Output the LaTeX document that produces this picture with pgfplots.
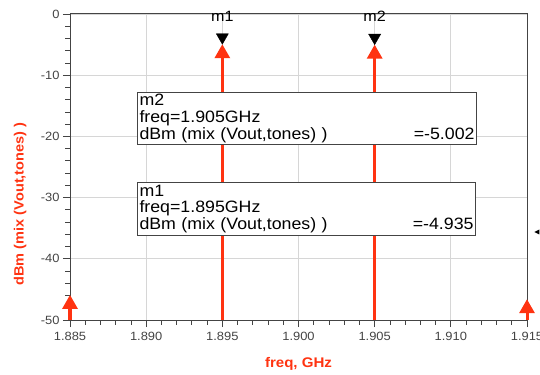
\documentclass[border=0pt]{standalone}
\usepackage{fontspec}
\setmainfont{Liberation Sans}[FakeStretch=1.08]
\usepackage{pgfplots}
\pgfplotsset{compat=1.18}
\usetikzlibrary{arrows.meta}
\definecolor{adsred}{HTML}{FF3311}
\definecolor{gridgray}{HTML}{D6D6D6}
\definecolor{axgray}{HTML}{444444}
\begin{document}
\begin{tikzpicture}
\path[use as bounding box] (-70bp,-55bp) rectangle (470bp,320bp);
% x values in MHz, labelled in GHz
\begin{axis}[
  at={(0bp,0bp)}, anchor=south west, scale only axis,
  width=457bp, height=306bp,
  xmin=1885, xmax=1915, ymin=-50, ymax=0,
  clip=false,
  xtick={1885,1890,1895,1900,1905,1910,1915},
  xticklabels={1.885,1.890,1.895,1.900,1.905,1.910,1.915},
  ytick={-50,-40,-30,-20,-10,0},
  minor x tick num=4, minor y tick num=4,
  tick align=outside, major tick length=7bp, minor tick length=4.5bp,
  xtick pos=bottom, ytick pos=left,
  grid=major, major grid style={gridgray, line width=0.8bp},
  minor grid style={draw=none},
  axis line style={axgray, line width=1bp},
  tick style={axgray, line width=0.8bp},
  ticklabel style={font=\fontsize{12}{12}\selectfont, text=axgray},
  xticklabel style={yshift=-2bp},
  /pgf/number format/assume math mode=true,
  xlabel={freq, GHz},
  xlabel style={font=\bfseries\fontsize{14}{15}\selectfont, text=adsred,
    at={(axis description cs:0.5,-0.144)}, anchor=center},
  ylabel={dBm (mix (Vout,tones) )},
  ylabel style={font=\bfseries\fontsize{13.5}{14}\selectfont, text=adsred,
    at={(axis description cs:-0.109,0.379)}, anchor=center},
]
% spectral lines (stems with arrow tips at the value)
\addplot[adsred, line width=3bp, -{Triangle[width=15bp,length=14bp]}] coordinates {(1885,-50) (1885,-45.9)};
\addplot[adsred, line width=3bp, -{Triangle[width=15bp,length=14bp]}] coordinates {(1895,-50) (1895,-4.935)};
\addplot[adsred, line width=3bp, -{Triangle[width=15bp,length=14bp]}] coordinates {(1905,-50) (1905,-5.002)};
\addplot[adsred, line width=3bp, -{Triangle[width=15bp,length=14bp]}] coordinates {(1915,-50) (1915,-46.6)};
% markers m1, m2
\addplot[only marks, mark=triangle*, mark size=7bp,
  mark options={yshift=7bp, rotate=180, fill=black, draw=black},
  point meta=explicit symbolic, nodes near coords,
  every node near coord/.append style={anchor=south, inner sep=0pt, yshift=15.5bp,
    font=\fontsize{15}{15}\selectfont, text=black}]
  coordinates {(1895,-4.935) [m1] (1905,-5.002) [m2]};
% marker readout boxes
\node[draw=axgray, line width=1bp, fill=white, anchor=north west, inner xsep=2bp, inner ysep=0pt,
  minimum width=339bp, minimum height=52bp, text width=335bp, align=left,
  font=\fontsize{16.5}{17}\selectfont]
  at (axis description cs:0.1466,0.745)
  {m2\\freq=1.905GHz\\dBm (mix (Vout,tones) )\hfill=-5.002};
\node[draw=axgray, line width=1bp, fill=white, anchor=north west, inner xsep=2bp, inner ysep=0pt,
  minimum width=338bp, minimum height=53bp, text width=334bp, align=left,
  font=\fontsize{16.5}{17}\selectfont]
  at (axis description cs:0.1466,0.451)
  {m1\\freq=1.895GHz\\dBm (mix (Vout,tones) )\hfill=-4.935};
% off-scale indicator at right
\fill[black] (axis description cs:1.016,0.2876) -- ++(5bp,2.5bp) -- ++(0bp,-5bp) -- cycle;
\end{axis}
\end{tikzpicture}
\end{document}
